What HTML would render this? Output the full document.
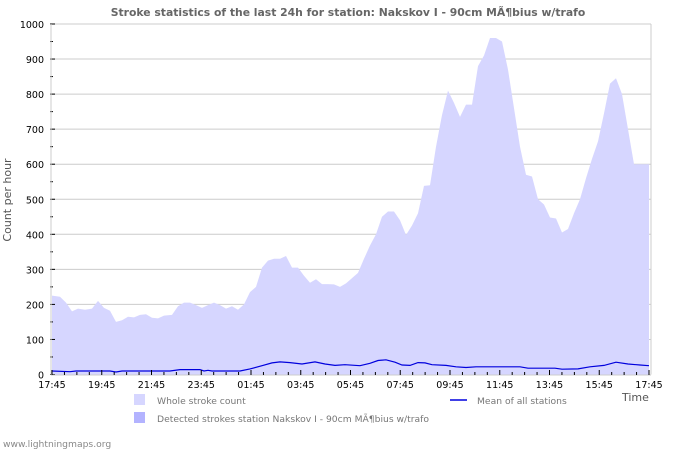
<!DOCTYPE html>
<html><head><meta charset="utf-8"><style>
body{margin:0;background:#fff}
svg{display:block;font-family:"DejaVu Sans","Liberation Sans",sans-serif}
</style></head><body>
<svg id="s" width="700" height="450" viewBox="0 0 700 450">
<rect width="700" height="450" fill="#fff"/>
<text x="348" y="16" text-anchor="middle" font-size="10.8" font-weight="bold" fill="#666">Stroke statistics of the last 24h for station: Nakskov I - 90cm MÃ¶bius w/trafo</text>
<g id="grid"></g>
<path id="area" fill="#d6d6ff"/>
<path id="line" fill="none" stroke="#0000dd" stroke-width="1.2"/>
<g id="ax"></g>
<text transform="translate(11,200) rotate(-90)" text-anchor="middle" font-size="11" fill="#555">Count per hour</text>
<text x="622" y="401" font-size="11" fill="#555">Time</text>
<rect x="134" y="394" width="11" height="11" fill="#d6d6ff"/>
<text x="157" y="404" font-size="9.2" fill="#777">Whole stroke count</text>
<rect x="134" y="412" width="11" height="11" fill="#b3b3ff"/>
<text x="157" y="422" font-size="9.2" fill="#777">Detected strokes station Nakskov I - 90cm MÃ¶bius w/trafo</text>
<line x1="450" y1="400" x2="467" y2="400" stroke="#0000dd" stroke-width="1.5"/>
<text x="477" y="404" font-size="9.2" fill="#777">Mean of all stations</text>
<text x="3" y="447" font-size="9.2" fill="#888">www.lightningmaps.org</text>
</svg>
<script>
var Y=function(v){return 374.5-v*0.3505};
var d=[[52,225],[60,222],[66,205],[72,180],[78,188],[85,185],[92,188],[98,210],[104,190],[110,182],[116,150],[122,155],[128,165],[134,163],[140,170],[146,172],[152,162],[158,160],[164,168],[172,170],[178,195],[184,205],[190,205],[196,198],[202,190],[208,198],[214,205],[220,198],[226,188],[232,195],[238,185],[244,200],[250,235],[256,250],[262,305],[268,325],[274,330],[280,330],[286,338],[292,305],[298,305],[304,282],[310,262],[316,272],[322,258],[328,258],[334,257],[340,250],[346,260],[352,275],[358,290],[364,330],[370,368],[376,400],[382,450],[388,465],[394,465],[400,440],[406,398],[412,425],[418,460],[424,538],[430,540],[436,650],[442,740],[448,810],[454,775],[460,735],[466,770],[472,770],[478,880],[484,910],[490,960],[496,960],[502,950],[508,870],[514,760],[520,650],[526,570],[532,565],[538,500],[544,485],[550,448],[556,445],[562,405],[568,415],[574,460],[580,500],[586,560],[592,615],[598,665],[604,745],[610,830],[616,845],[622,800],[628,700],[634,600],[640,600],[649,600]];
var p="M52,"+Y(0);d.forEach(function(a){p+="L"+a[0]+","+Y(a[1]).toFixed(1)});p+="L649,"+Y(0)+"Z";
document.getElementById("area").setAttribute("d",p);
var m=[[52,10],[70,8],[76,10],[110,10],[116,7],[122,10],[170,10],[180,14],[200,14],[204,10],[208,12],[212,10],[240,10],[250,16],[262,25],[272,33],[280,36],[290,34],[302,30],[315,36],[325,30],[335,26],[345,28],[360,25],[370,32],[378,40],[386,42],[395,35],[402,27],[410,26],[418,34],[425,33],[432,28],[446,26],[456,22],[466,20],[476,22],[520,22],[528,18],[555,18],[562,15],[578,16],[590,22],[604,26],[616,35],[628,30],[640,27],[649,25]];
var q="";m.forEach(function(a,i){q+=(i?"L":"M")+a[0]+","+Y(a[1]).toFixed(1)});
document.getElementById("line").setAttribute("d",q);
var g="",ax="";
for(var v=0;v<=1000;v+=100){var y=Y(v);
 if(v>0)g+='<line x1="52" y1="'+y+'" x2="651" y2="'+y+'" stroke="#ccc" stroke-width="1"/>';
 ax+='<line x1="50" y1="'+y+'" x2="55" y2="'+y+'" stroke="#000"/>';
 ax+='<text x="44" y="'+(y+4)+'" text-anchor="end" font-size="9.5" fill="#000">'+v+'</text>';
 if(v<1000){var y2=Y(v+50);ax+='<line x1="50" y1="'+y2+'" x2="53" y2="'+y2+'" stroke="#000"/>';}
}
g+='<line x1="651" y1="'+Y(1000)+'" x2="651" y2="'+Y(0)+'" stroke="#ccc"/>';
ax+='<line x1="51" y1="'+Y(1000)+'" x2="51" y2="375" stroke="#ccc"/>';
ax+='<line x1="51" y1="375" x2="651" y2="375" stroke="#ccc"/>';
var L=["17:45","19:45","21:45","23:45","01:45","03:45","05:45","07:45","09:45","11:45","13:45","15:45","17:45"];
for(var i=0;i<=48;i++){var x=52+i*597/48;
 ax+='<line x1="'+x+'" y1="'+(i%4?372:370)+'" x2="'+x+'" y2="375" stroke="#000"/>';
 if(i%4==0)ax+='<text x="'+x+'" y="388" text-anchor="middle" font-size="9.5" fill="#000">'+L[i/4]+'</text>';
}
document.getElementById("grid").innerHTML=g;
document.getElementById("ax").innerHTML=ax;
</script>
</body></html>
